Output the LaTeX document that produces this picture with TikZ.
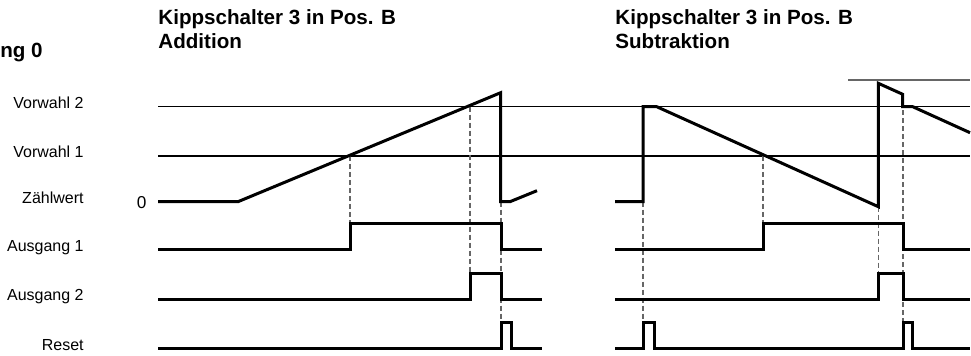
\documentclass[tikz,border=0pt]{standalone}
\usepackage{fontspec}
\setmainfont{Liberation Sans}
\usepackage{tikz}
\newcommand{\titlefont}{\fontsize{10.3}{12}\bfseries\selectfont}
\newcommand{\rowfont}{\fontsize{8}{9.6}\selectfont}

\begin{document}
\begin{tikzpicture}[x=0.5pt,y=-0.5pt,
	signal/.style={line width=1.5pt,line join=miter},
	level/.style={line width=0.55pt},
	marker/.style={black!60,line width=0.55pt,dash pattern=on 2.5pt off 1.5pt},
	signame/.style={anchor=base east,inner sep=0pt,font=\rowfont},
	heading/.style={anchor=base west,inner sep=0pt,font=\titlefont}]
	\useasboundingbox (0,0) rectangle (971,356);
	
	\node[heading,anchor=base east] (eing) at (43,58) {ng 0};
	\node[heading] (addA) at (158,25) {Kippschalter 3 in Pos. B};
	\node[heading] (addB) at (158,49) {Addition};
	\node[heading] (subA) at (615,25) {Kippschalter 3 in Pos. B};
	\node[heading] (subB) at (615,49) {Subtraktion};
	
	\foreach \t/\y [count=\i] in {Vorwahl 2/106.7,Vorwahl 1/156,Zählwert/201.7,Ausgang 1/250,Ausgang 2/299.3,Reset/349}
		\node[signame] (row\i) at (84,\y+1.5) {\t};
	\node[signame,anchor=base,font=\fontsize{8.6}{10}\selectfont] (null) at (141.7,208.7) {0};
	
	% Vorwahl levels
	\draw[level] (158,106.7) -- (970,106.7);
	\draw[level] (158,156) -- (970,156);
	\draw[level,black!60] (848,80) -- (970,80);
	
	% markers
	\foreach \x/\ya/\yb in {350/156/224,470/106.7/274,501/201.7/322.7,643/201.7/322.7,763/156/224,878.3/206.7/274,903/94.3/322.7}
		\draw[marker] (\x,\ya) -- (\x,\yb);
	
	% Addition
	\draw[signal] (158,201.7) -- (238,201.7) -- (500.7,92.7) -- (500.7,201.7) -- (510,201.7) -- (537,190.7);
	\draw[signal] (158,250) -- (350,250) -- (350,224) -- (501,224) -- (501,250) -- (542,250);
	\draw[signal] (158,299.3) -- (470,299.3) -- (470,274) -- (501,274) -- (501,299.3) -- (542,299.3);
	\draw[signal] (158,349) -- (501,349) -- (501,322.7) -- (511.7,322.7) -- (511.7,349) -- (542,349);
	
	% Subtraktion
	\draw[signal] (615,201.7) -- (643,201.7) -- (643,106.7) -- (656.7,106.7) -- (878.3,206.7) -- (878.3,83.3) -- (902.7,94.3) -- (902.7,106.7) -- (912.7,106.7) -- (970,132.7);
	\draw[signal] (615,250) -- (763,250) -- (763,224) -- (903,224) -- (903,250) -- (970,250);
	\draw[signal] (615,299.3) -- (878.3,299.3) -- (878.3,274) -- (903,274) -- (903,299.3) -- (970,299.3);
	\draw[signal] (615,349) -- (643,349) -- (643,322.7) -- (654,322.7) -- (654,349) -- (903,349) -- (903,322.7) -- (912.7,322.7) -- (912.7,349) -- (970,349);
\end{tikzpicture}
\end{document}
